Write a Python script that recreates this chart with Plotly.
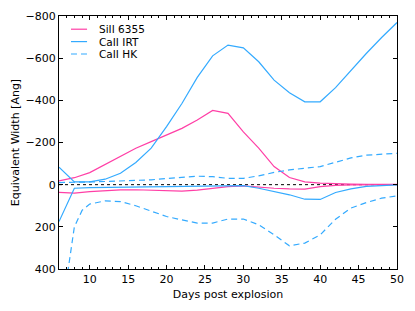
import plotly.graph_objects as go

days = [6, 8, 10, 12, 14, 16, 18, 20, 22, 24, 26, 28, 30, 32, 34, 36, 38, 40, 42, 44, 46, 48, 50]

si_upper = [-18, -33, -57, -97, -136, -173, -204, -236, -267, -307, -352, -338, -250,
            -173, -86, -34, -13, -7, -4, -3, -2, -1, -1]
si_lower = [37, 40, 33, 28, 25, 24, 27, 29, 31, 26, 17, 9, 6, 12, 17, 20, 21, 9, 3, 1, 0, 0, 0]

irt_upper = [-83, -13, -13, -26, -54, -105, -173, -275, -385, -509, -611, -662, -649,
             -583, -496, -436, -393, -393, -460, -543, -622, -698, -769]
irt_lower = [175, 17, 14, 13, 12, 12, 12, 12, 11, 10, 8, 6, 5, 17, 33, 48, 69, 70, 37, 20, 8, 4, 1]

hk_upper = [-10, -13, -13, -15, -17, -20, -23, -29, -35, -40, -38, -30, -30, -42, -58,
            -70, -78, -86, -106, -127, -140, -146, -149]
hk_days_lower = [6, 8, 9, 10, 12, 14, 16, 18, 20, 22, 24, 26, 28, 30, 32, 34, 36, 38, 40, 42, 44, 46, 48, 50]
hk_lower = [700, 200, 122, 92, 77, 80, 100, 127, 151, 167, 182, 182, 163, 163, 190, 238,
            290, 277, 238, 164, 111, 85, 64, 53]

names = ["SiII 6355", "CaII IRT", "CaII HK"]

MAG = "#ff3fa6"
BLUE = "#33aaff"
FONT = "DejaVu Sans"
DASH = "6px,4px"

fig = go.Figure()
fig.add_trace(go.Scatter(x=days, y=si_upper, mode="lines", name=names[0], legendgroup="si",
                         showlegend=False, line=dict(color=MAG, width=1.2)))
fig.add_trace(go.Scatter(x=days, y=si_lower, mode="lines", name=names[0], legendgroup="si",
                         showlegend=False, line=dict(color=MAG, width=1.2)))
fig.add_trace(go.Scatter(x=days, y=irt_upper, mode="lines", name=names[1], legendgroup="irt",
                         showlegend=False, line=dict(color=BLUE, width=1.2)))
fig.add_trace(go.Scatter(x=days, y=irt_lower, mode="lines", name=names[1], legendgroup="irt",
                         showlegend=False, line=dict(color=BLUE, width=1.2)))
fig.add_trace(go.Scatter(x=days, y=hk_upper, mode="lines", name=names[2], legendgroup="hk",
                         showlegend=False, line=dict(color=BLUE, width=1.2, dash=DASH)))
fig.add_trace(go.Scatter(x=hk_days_lower, y=hk_lower, mode="lines", name=names[2], legendgroup="hk",
                         showlegend=False, line=dict(color=BLUE, width=1.2, dash=DASH)))

# zero reference line
fig.add_shape(type="line", xref="paper", x0=0, x1=1, yref="y", y0=0, y1=0,
              line=dict(color="black", width=1, dash="dot"), layer="below")

# compact legend (matplotlib-like)
leg_styles = [(MAG, "solid"), (BLUE, "solid"), (BLUE, DASH)]
leg_y = [0.9478, 0.8988, 0.8498]
for name, (col, dsh), yy in zip(names, leg_styles, leg_y):
    fig.add_shape(type="line", xref="paper", yref="paper", x0=0.0355, x1=0.083, y0=yy, y1=yy,
                  line=dict(color=col, width=1.2, dash=dsh))
    fig.add_annotation(xref="paper", yref="paper", x=0.1154, y=yy, text=name, showarrow=False,
                       xanchor="left", yanchor="middle", borderpad=0,
                       font=dict(family=FONT, size=10.5, color="black"))

axis_common = dict(showline=True, linecolor="black", linewidth=1, mirror="ticks",
                   ticks="inside", ticklen=4, tickcolor="black", showgrid=False,
                   zeroline=False, automargin=False,
                   tickfont=dict(family=FONT, size=11, color="black"))

# page body has an 8px default margin; size the figure to compensate
fig.update_layout(
    width=407, height=303,
    margin=dict(l=51, r=18, t=8, b=42),
    plot_bgcolor="white", paper_bgcolor="white",
    font=dict(family=FONT, size=11, color="black"),
    xaxis=dict(range=[6, 50], dtick=5, tick0=0,
               minor=dict(dtick=1, ticks="inside", ticklen=2, tickcolor="black"),
               title=dict(text="Days post explosion", font=dict(family=FONT, size=11), standoff=5),
               **axis_common),
    yaxis=dict(range=[400, -800], dtick=200,
               title=dict(text="Equivalent Width [Ang]", font=dict(family=FONT, size=11), standoff=3),
               **axis_common),
    showlegend=False,
)

fig.write_html("out.html")
